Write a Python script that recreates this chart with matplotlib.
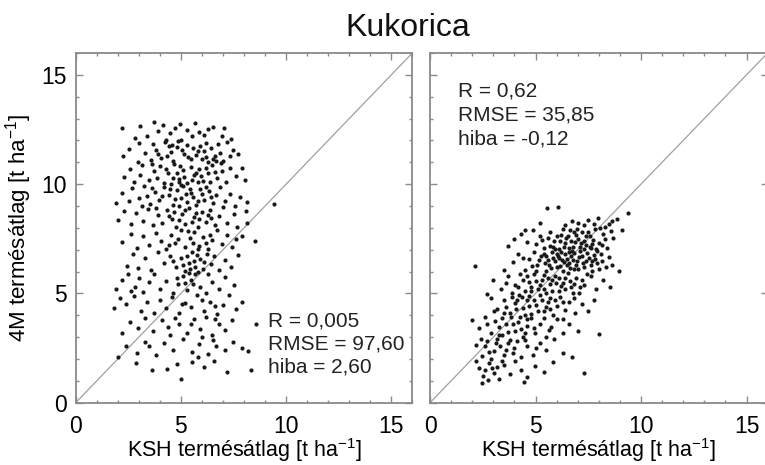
import numpy as np
import matplotlib
matplotlib.use("Agg")
import matplotlib.pyplot as plt
from matplotlib.ticker import MultipleLocator

plt.rcParams['font.family'] = ['Liberation Sans', 'DejaVu Sans']
plt.rcParams['mathtext.fontset'] = 'custom'
plt.rcParams['mathtext.rm'] = 'Liberation Sans'
plt.rcParams['mathtext.it'] = 'Liberation Sans'

# KSH (x) vs 4M (y) yields, t/ha -- 4M model run
left_points = np.array([
    (2.19, 12.56), (3.06, 12.66), (3.72, 12.83), (4.13, 12.71), (4.96, 12.74), (5.67, 12.81), (6.54, 12.6),
    (4.47, 12.35), (5.31, 12.48), (6.12, 12.27), (6.93, 12.18), (7.38, 12.05), (3.41, 12.22), (2.83, 12.09),
    (5.02, 12.02), (5.84, 12.4), (4.71, 12.55), (3.93, 12.41), (7.05, 12.57),
    (2.24, 11.31), (2.53, 11.62), (3.02, 11.87), (3.28, 11.43), (3.81, 11.57), (4.04, 11.19), (4.23, 11.93),
    (4.52, 11.48), (4.79, 11.72), (5.14, 11.39), (5.27, 11.81), (5.49, 11.13), (5.93, 11.76), (6.08, 11.52),
    (6.31, 11.02), (6.42, 11.64), (6.63, 11.29), (6.77, 11.83), (7.02, 11.08), (7.21, 11.91), (7.47, 11.58),
    (7.71, 11.37), (3.58, 11.11), (4.63, 11.04), (5.04, 11.55), (5.72, 11.33), (5.98, 11.14), (6.51, 11.16),
    (6.91, 10.97), (7.33, 11.27), (2.94, 11.01), (4.34, 11.29), (4.87, 11.96), (5.58, 11.67), (6.19, 11.88),
    (6.86, 11.44), (3.69, 11.82), (4.41, 11.74), (5.36, 11.22), (6.68, 11.05),
    (4.28, 12.03), (5.52, 12.21), (6.31, 12.51), (4.58, 11.81), (5.81, 11.51), (6.21, 11.24), (3.91, 11.38),
    (2.31, 10.34), (2.57, 10.71), (3.04, 10.43), (3.17, 10.88), (3.48, 10.19), (3.74, 10.62), (4.02, 10.83),
    (4.18, 10.07), (4.39, 10.51), (4.68, 10.93), (4.91, 10.22), (5.08, 10.64), (5.29, 10.03), (5.46, 10.79),
    (5.63, 10.41), (5.87, 10.69), (6.06, 10.13), (6.28, 10.52), (6.49, 10.88), (6.71, 10.27), (6.94, 10.61),
    (7.12, 10.09), (7.34, 10.76), (7.62, 10.38), (7.88, 10.72), (8.03, 10.17), (4.81, 10.49), (5.01, 9.98),
    (4.53, 10.02), (5.97, 10.37), (3.87, 10.29), (2.79, 10.11), (4.27, 10.71), (5.17, 10.34), (5.53, 10.21),
    (6.17, 10.76), (6.62, 10.55), (4.96, 10.82), (3.61, 10.91), (5.79, 10.12),
    (5.71, 10.52), (4.62, 10.28), (6.38, 10.08), (4.89, 10.08),
    (1.93, 9.12), (2.18, 9.58), (2.51, 9.21), (2.69, 9.83), (3.01, 9.38), (3.26, 9.91), (3.52, 9.08),
    (3.79, 9.63), (3.98, 9.27), (4.21, 9.86), (4.42, 9.49), (4.61, 9.03), (4.83, 9.71), (4.99, 9.36),
    (5.12, 9.92), (5.31, 9.18), (5.48, 9.61), (5.71, 9.04), (5.91, 9.77), (6.09, 9.29), (6.32, 9.68),
    (6.51, 9.13), (6.69, 9.52), (6.88, 9.89), (7.09, 9.23), (7.31, 9.57), (7.58, 9.02), (7.79, 9.41),
    (8.12, 9.19), (9.42, 9.09), (4.92, 9.01), (5.59, 9.42), (3.13, 9.02), (6.02, 9.53), (4.49, 9.79),
    (4.71, 9.33), (5.22, 9.55), (5.82, 9.24), (6.21, 9.85), (4.11, 9.47), (3.41, 9.44),
    (5.41, 9.79), (6.41, 9.42), (3.62, 9.81),
    (2.02, 8.38), (2.29, 8.79), (2.61, 8.17), (2.87, 8.69), (3.19, 8.31), (3.42, 8.88), (3.68, 8.12),
    (3.91, 8.57), (4.09, 8.23), (4.32, 8.81), (4.58, 8.42), (4.77, 8.04), (5.03, 8.63), (5.21, 8.19),
    (5.38, 8.92), (5.61, 8.48), (5.81, 8.03), (6.01, 8.71), (6.19, 8.27), (6.38, 8.83), (6.61, 8.11),
    (6.82, 8.52), (7.01, 8.94), (7.19, 8.21), (7.51, 8.62), (7.68, 8.02), (8.09, 8.79), (8.14, 8.21),
    (4.41, 8.53), (5.52, 8.28), (4.93, 8.34), (5.74, 8.66), (6.44, 8.45), (3.82, 8.91),
    (5.19, 8.81), (6.28, 8.58), (4.68, 8.71), (5.88, 8.41),
    (2.21, 7.34), (2.63, 7.72), (2.89, 7.09), (3.18, 7.61), (3.49, 7.21), (3.83, 7.78), (4.03, 7.42),
    (4.31, 7.02), (4.52, 7.68), (4.72, 7.31), (4.98, 7.88), (5.19, 7.13), (5.41, 7.52), (5.62, 7.81),
    (5.88, 7.19), (6.07, 7.58), (6.29, 7.04), (6.48, 7.43), (6.72, 7.91), (6.93, 7.24), (7.18, 7.69),
    (7.41, 7.12), (7.63, 7.48), (7.92, 7.61), (8.52, 7.38), (5.79, 7.01), (4.87, 7.51), (5.32, 7.84),
    (6.18, 7.29), (5.58, 7.31), (6.38, 7.68), (4.42, 7.22),
    (2.42, 6.27), (2.71, 6.79), (2.98, 6.18), (3.31, 6.62), (3.58, 6.09), (3.92, 6.88), (4.19, 6.41),
    (4.49, 6.72), (4.78, 6.21), (4.99, 6.63), (5.18, 6.02), (5.39, 6.39), (5.51, 6.91), (5.69, 6.19),
    (5.89, 6.58), (6.03, 6.12), (6.22, 6.81), (6.41, 6.33), (6.59, 6.69), (6.81, 6.08), (7.08, 6.51),
    (7.39, 6.23), (7.71, 6.78), (5.61, 6.47), (5.83, 5.98), (6.11, 6.42), (5.28, 6.73), (4.62, 6.48),
    (5.41, 6.12), (5.78, 6.78), (5.09, 6.32),
    (1.91, 5.18), (2.19, 5.61), (2.48, 5.87), (2.81, 5.29), (3.02, 5.72), (3.21, 5.08), (3.47, 5.53),
    (3.73, 5.91), (4.01, 5.22), (4.28, 5.59), (4.61, 5.03), (4.88, 5.41), (5.09, 5.79), (5.28, 5.17),
    (5.47, 5.62), (5.68, 5.89), (5.91, 5.31), (6.17, 5.04), (6.48, 5.52), (6.79, 5.19), (7.11, 5.77),
    (7.52, 5.38), (2.62, 5.11), (5.38, 5.93), (5.58, 5.42), (5.19, 5.48), (6.29, 5.88), (4.82, 5.71),
    (1.82, 4.31), (2.09, 4.79), (2.38, 4.52), (2.79, 4.88), (3.08, 4.21), (3.39, 4.62), (3.71, 4.09),
    (4.02, 4.71), (4.29, 4.33), (4.59, 4.82), (4.91, 4.12), (5.18, 4.58), (5.49, 4.39), (5.78, 4.93),
    (6.08, 4.18), (6.39, 4.61), (6.71, 4.07), (7.02, 4.48), (7.29, 4.91), (7.61, 4.27), (7.88, 4.63),
    (6.01, 4.72), (5.03, 4.51), (6.62, 4.41),
    (2.18, 3.21), (2.59, 3.68), (2.97, 3.41), (3.29, 3.88), (3.69, 3.28), (4.08, 3.79), (4.48, 3.09),
    (4.89, 3.62), (5.29, 3.18), (5.62, 3.82), (5.92, 3.39), (6.21, 3.91), (6.49, 3.12), (6.83, 3.58),
    (7.09, 3.31), (7.42, 3.79), (8.58, 3.61), (6.02, 3.01), (4.38, 3.48), (5.48, 3.58), (6.62, 3.84),
    (4.71, 3.88),
    (2.01, 2.08), (2.38, 2.61), (2.91, 2.28), (3.28, 2.79), (3.82, 2.19), (4.18, 2.72), (4.62, 2.39),
    (5.08, 2.91), (5.52, 2.31), (5.88, 2.68), (6.28, 2.21), (6.68, 2.58), (7.09, 2.42), (7.48, 2.79),
    (7.91, 2.51), (8.21, 2.38), (6.51, 2.88), (5.81, 2.09), (3.49, 2.58),
    (2.88, 1.82), (3.61, 1.48), (4.32, 1.53), (4.98, 1.08), (5.52, 1.88), (6.12, 1.62), (6.58, 1.91),
    (7.19, 1.41), (8.31, 1.49), (4.81, 1.79),
])

right_points = np.array([
    (5.53, 8.9), (6.05, 8.94), (9.4, 8.67), (7.48, 8.38), (7.97, 8.47), (8.62, 8.31), (7.03, 8.22),
    (6.41, 8.13), (5.21, 8.24), (7.79, 8.16), (8.88, 8.42), (8.29, 8.02), (6.72, 8.33), (7.31, 8.11),
    (8.47, 8.19),
    (4.61, 7.33), (4.88, 7.91), (5.19, 7.62), (5.42, 7.08), (5.71, 7.79), (5.88, 7.41), (6.09, 7.03),
    (6.22, 7.68), (6.39, 7.29), (6.62, 7.88), (6.79, 7.12), (7.02, 7.51), (7.19, 7.83), (7.41, 7.22),
    (7.58, 7.63), (7.81, 7.93), (8.02, 7.31), (8.19, 7.72), (8.41, 7.09), (8.68, 7.52), (4.29, 7.71),
    (3.72, 7.19), (5.02, 7.28), (5.59, 7.52), (6.31, 7.94), (6.91, 7.69), (7.29, 7.41), (7.88, 7.02),
    (8.08, 7.98), (5.81, 7.13), (6.52, 7.61), (7.11, 7.14), (3.98, 7.48), (7.69, 7.28), (8.59, 7.87),
    (9.12, 7.91), (6.14, 7.42), (6.68, 7.38), (7.49, 7.82), (5.31, 7.44), (4.48, 7.92), (8.31, 7.49),
    (6.98, 7.97), (7.62, 7.06), (6.36, 7.13), (6.58, 7.06), (6.86, 7.33), (7.14, 7.32), (7.37, 7.62),
    (7.72, 7.46), (8.13, 7.21), (5.93, 7.01), (7.57, 7.13), (6.43, 7.52), (5.69, 7.18), (6.02, 7.63),
    (6.81, 7.79), (7.29, 7.03),
    (3.91, 6.42), (4.18, 6.81), (4.52, 6.09), (4.71, 6.58), (4.92, 6.88), (5.09, 6.31), (5.28, 6.69),
    (5.49, 6.03), (5.61, 6.52), (5.79, 6.91), (6.01, 6.22), (6.12, 6.61), (6.29, 6.02), (6.42, 6.79),
    (6.51, 6.28), (6.69, 6.72), (6.81, 6.11), (6.98, 6.49), (7.12, 6.92), (7.28, 6.19), (7.52, 6.62),
    (7.69, 6.03), (7.91, 6.41), (8.09, 6.82), (8.32, 6.21), (8.49, 6.68), (2.13, 6.26), (3.49, 6.08),
    (5.92, 6.48), (6.19, 6.89), (6.61, 6.39), (7.21, 6.69), (7.61, 6.32), (8.02, 6.12), (5.02, 6.01),
    (4.39, 6.62), (6.91, 6.29), (5.38, 6.82), (6.33, 6.43), (7.79, 6.76), (8.62, 6.29), (8.98, 6.02),
    (5.72, 6.17), (6.58, 6.91), (7.39, 6.48), (6.04, 6.82), (5.18, 6.54), (7.01, 6.11), (5.51, 6.73),
    (6.78, 6.52), (7.82, 6.58), (4.82, 6.27), (5.62, 6.31), (5.84, 6.62), (6.07, 6.71), (6.24, 6.55),
    (6.47, 6.58), (6.63, 6.18), (6.84, 6.84), (7.04, 6.68), (7.23, 6.41), (7.46, 6.86), (7.66, 6.49),
    (7.93, 6.92), (8.14, 6.47), (5.46, 6.38), (6.16, 6.27), (6.74, 6.95),
    (2.99, 5.62), (3.38, 5.21), (3.71, 5.79), (4.02, 5.38), (4.28, 5.91), (4.51, 5.09), (4.69, 5.52),
    (4.91, 5.88), (5.11, 5.19), (5.29, 5.61), (5.52, 5.02), (5.69, 5.42), (5.91, 5.81), (6.09, 5.13),
    (6.31, 5.49), (6.52, 5.92), (6.69, 5.28), (6.91, 5.71), (7.08, 5.03), (7.31, 5.38), (7.61, 5.79),
    (7.88, 5.21), (8.21, 5.62), (2.71, 4.98), (4.19, 5.29), (5.61, 5.71), (6.21, 5.32), (6.78, 5.01),
    (5.01, 5.58), (7.42, 5.88), (3.88, 5.02), (5.79, 5.12), (6.62, 5.58), (8.51, 5.29), (4.81, 5.31),
    (5.41, 5.83), (6.42, 5.18), (3.58, 5.48), (7.18, 5.62), (5.98, 5.47), (4.41, 5.62), (4.62, 5.79),
    (4.79, 5.11), (5.22, 5.39), (5.39, 5.19), (5.78, 5.62), (6.12, 5.71), (6.41, 5.71), (6.82, 5.44),
    (7.12, 5.29),
    (2.91, 4.81), (3.19, 4.29), (3.51, 4.72), (3.79, 4.11), (4.01, 4.58), (4.21, 4.92), (4.41, 4.31),
    (4.59, 4.69), (4.79, 4.08), (5.02, 4.49), (5.19, 4.91), (5.38, 4.19), (5.59, 4.62), (5.81, 4.02),
    (6.02, 4.41), (6.18, 4.82), (6.41, 4.22), (6.61, 4.59), (6.89, 4.12), (7.19, 4.52), (7.49, 4.18),
    (7.79, 4.69), (3.62, 4.38), (4.69, 4.42), (5.31, 4.71), (4.09, 4.28), (5.92, 4.68), (6.82, 4.79),
    (3.01, 4.19), (4.48, 4.02), (4.92, 4.71), (5.51, 4.38), (3.89, 4.82), (6.29, 4.59), (4.12, 4.72),
    (4.38, 4.82), (4.71, 4.89), (5.12, 4.21), (5.71, 4.81), (5.68, 4.28),
    (2.31, 3.42), (2.59, 3.91), (2.88, 3.18), (3.09, 3.72), (3.41, 3.08), (3.61, 3.61), (3.82, 3.92),
    (4.02, 3.29), (4.19, 3.71), (4.41, 3.02), (4.62, 3.52), (4.81, 3.88), (4.98, 3.21), (5.21, 3.62),
    (5.49, 3.01), (5.72, 3.48), (6.01, 3.81), (6.29, 3.19), (6.61, 3.59), (7.02, 3.28), (8.02, 3.13),
    (3.29, 3.48), (4.31, 3.38), (4.91, 3.42), (1.98, 3.79), (3.71, 3.22), (4.58, 3.82), (2.72, 3.58),
    (5.38, 3.88), (3.41, 3.89), (3.52, 4.12), (3.92, 3.59), (4.28, 3.92), (4.52, 3.21), (3.28, 3.12),
    (5.62, 3.31), (6.28, 3.82),
    (2.19, 2.62), (2.48, 2.12), (2.69, 2.81), (3.01, 2.38), (3.18, 2.92), (3.49, 2.19), (3.68, 2.71),
    (3.92, 2.29), (4.11, 2.82), (4.29, 2.08), (4.62, 2.61), (4.89, 2.18), (5.21, 2.72), (5.52, 2.41),
    (5.88, 2.91), (6.31, 2.28), (6.75, 2.1), (2.91, 2.02), (3.31, 2.58), (3.98, 2.51), (2.41, 2.93),
    (5.02, 2.49), (2.78, 2.32), (3.62, 2.42), (3.11, 2.71), (3.81, 2.88), (4.48, 2.88), (2.61, 2.61),
    (2.31, 1.61), (2.52, 1.21), (2.79, 1.81), (3.02, 1.38), (3.29, 1.09), (3.51, 1.72), (3.79, 1.29),
    (4.02, 1.91), (4.31, 1.51), (4.58, 1.19), (4.98, 1.69), (5.39, 1.42), (5.81, 1.88), (7.3, 1.35),
    (2.48, 0.92), (2.76, 1.04), (4.45, 0.96), (2.19, 1.89), (3.18, 1.62), (2.61, 1.48), (3.42, 1.92),
    (2.92, 1.58),
])

left_stats = ["R = 0,005", "RMSE = 97,60", "hiba = 2,60"]
right_stats = ["R = 0,62", "RMSE = 35,85", "hiba = -0,12"]
ticks = [0, 5, 10, 15]

fig = plt.figure(figsize=(7.65, 4.65), dpi=100)
ax1 = fig.add_axes([0.0990, 0.1340, 0.4400, 0.7520])
ax2 = fig.add_axes([0.5621, 0.1340, 0.4413, 0.7520])

spine_col = '#8a8a8a'
for ax, pts in ((ax1, left_points), (ax2, right_points)):
    ax.plot([0, 16], [0, 16], color='#a0a0a0', lw=0.9, zorder=1)
    ax.scatter(pts[:, 0], pts[:, 1], s=9, color='#1a1a1a', linewidths=0, zorder=2)
    ax.set_xlim(0, 16)
    ax.set_ylim(0, 16)
    ax.set_xticks(ticks)
    ax.set_yticks(ticks)
    ax.xaxis.set_minor_locator(MultipleLocator(1))
    ax.yaxis.set_minor_locator(MultipleLocator(1))
    ax.tick_params(which='both', direction='in', top=True, right=True,
                   color=spine_col, width=1)
    ax.tick_params(which='major', length=5, labelsize=16.5)
    ax.tick_params(which='minor', length=2.5)
    ax.tick_params(axis='x', which='major', pad=9)
    ax.tick_params(axis='y', which='major', pad=6.5)
    for sp in ax.spines.values():
        sp.set_color(spine_col)
        sp.set_linewidth(1.3)
    ax.set_xlabel('KSH termésátlag [t ha$^{-1}$]', fontsize=15.5, labelpad=-1.5)

ax1.set_ylabel('4M termésátlag [t ha$^{-1}$]', fontsize=16, labelpad=5)
ax2.tick_params(axis='y', labelleft=False)

for i, s in enumerate(left_stats):
    ax1.text(9.15, 3.48 - 1.06 * i, s, fontsize=15, color='#222222', va='baseline')
for i, s in enumerate(right_stats):
    ax2.text(1.31, 14.0 - 1.1 * i, s, fontsize=15, color='#222222', va='baseline')

fig.text(0.533, 0.94, 'Kukorica', fontsize=23, ha='center', va='center', color='#111111')

fig.savefig('out.png', dpi=100)
